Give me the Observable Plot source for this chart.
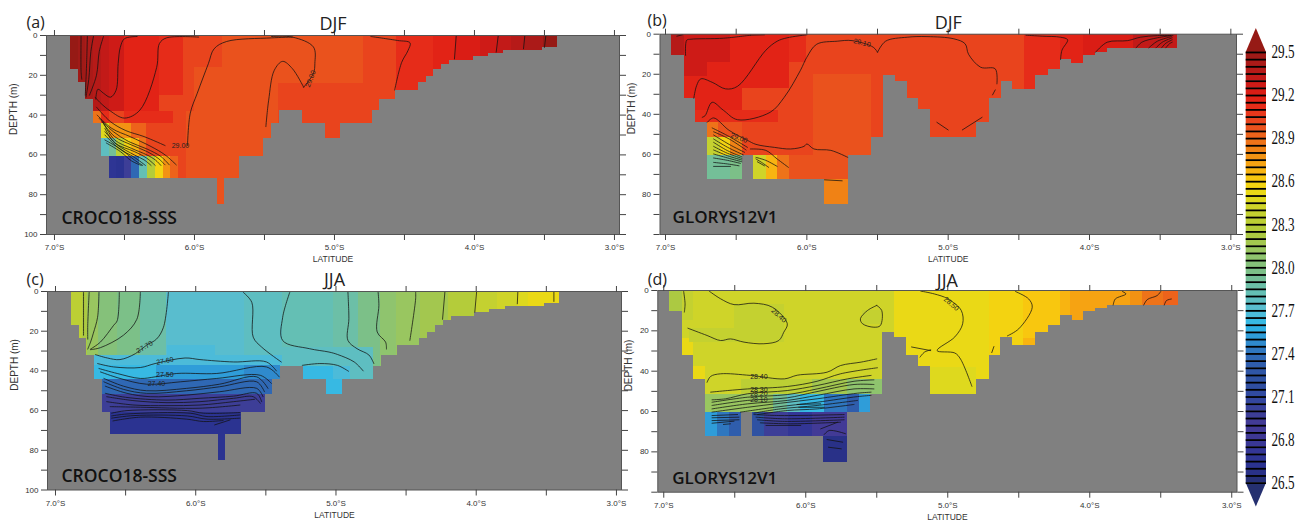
<!DOCTYPE html>
<html><head><meta charset="utf-8">
<script src="https://cdn.jsdelivr.net/npm/d3@7"></script>
<script src="https://cdn.jsdelivr.net/npm/@observablehq/plot@0.6"></script>
<style>html,body{margin:0;background:#fff;overflow:hidden}#c{position:relative;width:1308px;height:521px;overflow:hidden;background:#fff}#c svg{position:absolute}</style>
</head><body><div id="c"></div>
<script>
// Sea-bottom steps: column edges (latitude) and bottom depth (m) of each run
const crocoEdges=[-6.886,-6.831,-6.779,-6.719,-6.664,-6.61,-5.838,-5.786,-5.676,-5.505,-5.45,-5.395,-5.231,-5.064,-4.957,-4.731,-4.676,-4.564,-4.402,-4.345,-4.29,-4.236,-4.176,-4.01,-3.902,-3.79,-3.512,-3.405];
const crocoBottom=[17.3,23.6,32,44.1,61,72,85,72,61,51.9,44.1,37.9,44.1,51.9,44.1,37.9,32,27.4,23.6,20.5,17.3,14.8,12.6,10.6,8.9,7.6,6.2];
const glorysEdges=[-6.958,-6.868,-6.788,-6.705,-6.455,-6.375,-5.875,-5.708,-5.542,-5.46,-5.373,-5.29,-5.208,-5.125,-4.797,-4.709,-4.626,-4.546,-4.381,-4.293,-4.206,-4.125,-4.043,-3.957,-3.875,-3.378];
const glorysBottom=[10.6,32,44.1,72.3,60.7,72.3,85.2,60.7,51.7,20.6,23.5,32.2,37.5,51.7,44.1,32.2,23.5,27.5,20.6,17.6,12.6,14.8,10.6,9,7.3];

// Temperature patches: [lat from, lat to, depth from, depth to, °C], later ones lie over earlier ones
const patchesA=[
[-6.886,-3.405,0,100,29.03],[-5.8,-5.4,0,38,28.97],[-6,-5.4,16,100,28.97],[-6.06,-5.676,38,100,28.97],[-5.4,-4.79,0,24,28.97],
[-6.886,-6.831,0,100,29.6],[-6.831,-6.779,0,100,29.47],[-6.779,-6.719,0,100,29.42],[-6.719,-6.664,0,38,29.35],[-6.664,-6.61,0,38,29.3],
[-6.61,-6.5,0,38,29.27],[-6.5,-6.25,0,38,29.18],[-6.25,-6.08,0,30,29.12],[-6.5,-6.15,38,44.1,29.1],
[-6.719,-6.664,38,44.1,28.88],[-6.664,-6.61,38,44.1,29.1],
[-6.664,-6.61,44.1,52,28.45],[-6.61,-6.45,44.1,52,28.75],[-6.45,-6.34,44.1,52,28.93],
[-6.664,-6.61,52,61,27.75],[-6.61,-6.557,52,61,27.9],[-6.557,-6.502,52,61,28.3],[-6.502,-6.45,52,61,28.55],[-6.45,-6.395,52,61,28.67],[-6.395,-6.34,52,61,28.88],
[-6.61,-6.557,61,72,26.65],[-6.557,-6.502,61,72,26.6],[-6.502,-6.45,61,72,26.95],[-6.45,-6.395,61,72,27.35],[-6.395,-6.336,61,72,27.8],[-6.336,-6.279,61,72,28.25],[-6.279,-6.221,61,72,28.55],[-6.221,-6.169,61,72,28.75],[-6.169,-6.117,61,72,28.9],
[-4.56,-4.29,0,100,29.1],[-4.29,-4.136,0,100,29.18],[-4.136,-3.957,0,100,29.2],[-3.957,-3.838,0,100,29.27],[-3.838,-3.738,0,100,29.33],[-3.738,-3.64,0,100,29.38],[-3.64,-3.505,0,100,29.43],[-3.505,-3.405,0,100,29.6]];
const patchesB=[
[-6.958,-3.378,0,100,29.03],[-5.95,-5.542,20,100,28.98],
[-6.868,-6.455,0,38,29.18],[-6.455,-6.12,0,27,29.18],[-6.12,-6,0,14,29.12],[-6.868,-6.54,0,14,29.28],[-6.868,-6.7,14,21,29.28],[-6.958,-6.868,0,10.6,29.38],[-6.788,-6.2,38,44.1,29.1],
[-6.705,-6.623,44.1,51.7,28.88],[-6.623,-6.455,44.1,51.7,28.97],[-6.705,-6.61,51.7,60.7,28.38],[-6.61,-6.54,51.7,60.7,28.55],[-6.54,-6.455,51.7,60.7,28.82],[-6.705,-6.54,60.7,100,27.9],[-6.54,-6.455,60.7,100,27.97],
[-6.375,-6.288,60.7,100,28.42],[-6.288,-6.205,60.7,100,28.65],[-6.205,-6.123,60.7,100,28.88],[-6.123,-5.708,60.7,72.3,28.97],[-5.875,-5.708,72.3,100,28.82],
[-4.46,-4.206,0,100,29.12],[-4.206,-4.04,0,100,29.18],[-4.04,-3.686,0,100,29.23],[-3.686,-3.378,0,100,29.32]];
const patchesC=[
[-6.886,-6.81,0,100,28.3],[-6.81,-6.77,0,100,28.2],[-6.77,-6.69,0,100,28.1],[-6.69,-6.56,0,100,28.02],[-6.56,-6.395,0,100,27.95],[-6.395,-6.206,0,100,27.85],[-6.206,-5.65,0,100,27.72],[-5.65,-5.38,0,100,27.77],[-5.38,-5.015,0,100,27.82],[-5.015,-4.837,0,100,27.85],[-4.837,-4.68,0,100,27.95],[-4.68,-4.568,0,100,28.05],[-4.568,-4.397,0,100,28.1],[-4.397,-4.195,0,100,28.18],[-4.195,-4.005,0,100,28.28],[-4.005,-3.85,0,100,28.38],[-3.85,-3.707,0,100,28.42],[-3.707,-3.624,0,100,28.48],[-3.624,-3.446,0,100,28.53],[-3.446,-3.405,0,100,28.5],
[-5.38,-4.73,28,100,27.75],[-6.719,-5.38,32,37.2,27.67],[-6.2,-5.86,27,32,27.67],[-6.719,-6.277,37.2,44.1,27.6],[-6.277,-5.65,37.2,44.1,27.5],[-5.65,-5.395,37.2,44.1,27.45],
[-6.664,-5.45,44.1,52,27.35],[-6.664,-5.505,52,61,26.97],[-6.61,-5.676,61,72,26.62],[-5.838,-5.786,72,100,26.6],
[-5.231,-5.015,37.9,44.1,27.62],[-5.064,-4.957,44.1,100,27.6],[-5.015,-4.896,38,44.1,27.68]];
const patchesD=[
[-6.958,-3.378,0,100,28.42],[-6.958,-6.868,0,10.6,28.22],[-6.868,-6.788,0,15,28.38],[-6.868,-6.788,24,32,28.52],[-6.788,-6.705,37.7,44.1,28.52],
[-6.5,-6.15,7,26,28.37],[-6.82,-6.15,19,26,28.37],[-5.6,-5.47,10,17,28.38],
[-5.373,-4.709,0,100,28.5],[-5.15,-4.709,15,30,28.54],[-5.125,-4.797,38,100,28.45],
[-4.709,-4.464,0,100,28.58],[-4.464,-4.206,0,100,28.62],[-4.464,-4.381,24,100,28.68],[-4.206,-4.135,0,100,28.65],[-4.135,-3.713,0,100,28.7],[-3.713,-3.63,0,100,28.78],[-3.63,-3.478,0,100,28.85],[-3.478,-3.378,0,100,28.92],
[-6.455,-5.953,44.1,51.7,28.3],[-5.953,-5.708,44.1,51.7,28.15],[-5.708,-5.46,44.1,51.7,28.05],
[-6.705,-6.224,51.7,60.7,28.1],[-6.224,-6.13,51.7,60.7,27.9],[-6.13,-6.035,51.7,60.7,27.75],[-6.035,-5.87,51.7,60.7,27.6],[-5.87,-5.708,51.7,60.7,27.4],[-5.708,-5.624,51.7,60.7,27.3],[-5.624,-5.542,51.7,60.7,27.5],
[-6.705,-6.624,60.7,100,27.5],[-6.624,-6.54,60.7,100,27.42],[-6.54,-6.455,60.7,100,27.3],[-6.375,-6.29,60.7,100,27.2],[-6.29,-6.125,60.7,100,26.95],[-6.125,-5.953,60.7,100,26.7],[-5.953,-5.708,60.7,100,26.85],[-5.875,-5.708,72.3,100,26.55]];

// Isotherms: lists of [lat, depth]
const contoursA=[
[[-6.81,0],[-6.81,18],[-6.805,22]],[[-6.765,0],[-6.77,13],[-6.78,30]],[[-6.72,0],[-6.74,8],[-6.755,22],[-6.775,31]],
[[-6.65,0.5],[-6.68,8],[-6.7,20],[-6.75,30]],
[[-6.41,0.5],[-6.5,1.6],[-6.53,6],[-6.545,14],[-6.56,27.5],[-6.6,31],[-6.65,29],[-6.69,27],[-6.705,32]],
[[-5.97,0.8],[-6.2,1.2],[-6.25,4],[-6.27,16],[-6.39,37.5],[-6.5,41.5],[-6.6,38],[-6.67,34],[-6.71,31]],
[[-5.3,0.8],[-5.45,1.2],[-5.77,3],[-5.86,6.7],[-5.9,14],[-5.98,29],[-6.03,39],[-6.05,55.3]],
[[-5.45,0.5],[-5.3,0.8],[-5.15,5.8],[-5.14,14],[-5.15,19],[-5.22,26]],
[[-5.22,26],[-5.3,16.7],[-5.37,13],[-5.43,17.5],[-5.47,32.5],[-5.49,45.8]],
[[-4.74,0.5],[-4.55,2.5],[-4.46,3.7],[-4.475,7.6],[-4.52,13.5],[-4.57,27.4]],
[[-4.13,0],[-4.143,11.8]],[[-3.83,0],[-3.845,8.4]],[[-3.64,0],[-3.65,6.7]],[[-3.49,0],[-3.5,6]],
[[-6.7,36],[-6.6,43.3],[-6.49,47.8],[-6.36,50.8],[-6.21,55.3]],
[[-6.695,40],[-6.59,46.7],[-6.46,50.8],[-6.31,55.8],[-6.21,60],[-6.13,65]],
[[-6.68,41.7],[-6.58,48.3],[-6.47,53.3],[-6.34,57],[-6.24,60.8],[-6.18,65]],
[[-6.66,43.3],[-6.57,50.8],[-6.45,55],[-6.34,58.3],[-6.26,61.7],[-6.21,65]],
[[-6.65,44],[-6.57,52.5],[-6.45,56.7],[-6.34,60],[-6.28,62.5],[-6.24,65.3]],
[[-6.64,46.7],[-6.57,54],[-6.43,58.3],[-6.34,61.7],[-6.28,65.3]],
[[-6.64,48.3],[-6.55,55],[-6.43,60],[-6.36,62.5],[-6.31,65.3]],
[[-6.64,50],[-6.54,56.7],[-6.43,61.2],[-6.35,65.3]],
[[-6.64,52.5],[-6.53,57],[-6.43,62.5],[-6.37,65.3]],
[[-6.63,54],[-6.53,58.3],[-6.45,63],[-6.38,65.3]]];
const contoursB=[
[[-6.92,1],[-6.88,0.3]],[[-6.4,0.5],[-6.3,0.3]],
[[-6.858,10.6],[-6.85,3],[-6.82,2.5],[-6.59,2],[-6.4,0.5]],
[[-6,0.3],[-6.14,1.8],[-6.21,3.5],[-6.29,8],[-6.49,26],[-6.575,27.3],[-6.67,24],[-6.75,22.3],[-6.78,25.7],[-6.8,32]],
[[-5.5,9],[-5.53,6.5],[-5.68,3.2],[-5.785,3.5],[-5.93,5],[-6,11.5],[-6.045,18],[-6.16,31.5],[-6.26,39],[-6.49,42.7],[-6.59,38],[-6.67,34],[-6.72,40.7],[-6.74,41.5]],
[[-5.5,9],[-5.443,3.5],[-5.29,1.5],[-5.15,1.2],[-4.96,2.3],[-4.88,4.8],[-4.856,10],[-4.77,16.5],[-4.667,17.3],[-4.655,24.8]],
[[-4.667,27.8],[-4.686,30.3]],
[[-6.705,44],[-6.66,41.8],[-6.55,48],[-6.42,53],[-6.36,55],[-6.23,56.5],[-6.115,57.3],[-6.02,56],[-6,54.8],[-5.95,57.3],[-5.83,58],[-5.71,61.5]],
[[-6.4,57.3],[-6.29,58],[-6.21,62.3],[-6.13,66.5]],[[-5.875,72.7],[-5.75,73.2]],
[[-6.67,46.8],[-6.56,50.7],[-6.42,56.5]],[[-6.66,48.7],[-6.55,52.3],[-6.43,57.8]],[[-6.66,50.3],[-6.55,55],[-6.44,59]],[[-6.66,52.3],[-6.56,56.5],[-6.45,60.2]],[[-6.66,54],[-6.56,58.2],[-6.46,61.2]],[[-6.66,56],[-6.56,59.5],[-6.46,62]],[[-6.66,57.8],[-6.56,60.7],[-6.46,62.8]],[[-6.66,59.8],[-6.56,61.8],[-6.46,63.7]],[[-6.66,61.8],[-6.56,63],[-6.47,64.5]],[[-6.66,64],[-6.56,64.8],[-6.48,65.7]],[[-6.66,66],[-6.54,66]],
[[-6.36,61.5],[-6.29,63],[-6.21,66]],[[-6.36,62.3],[-6.32,64],[-6.27,66.5]],[[-6.35,63.7],[-6.3,65.7]],
[[-5.08,44],[-5,47.8]],[[-4.9,47.8],[-4.76,41.5]],
[[-4.45,0.5],[-4.335,1],[-4.205,1.5],[-4.155,2.8],[-4.195,8],[-4.205,12.7]],
[[-3.957,9],[-3.875,4],[-3.73,3.2],[-3.64,1.5],[-3.52,0.7],[-3.41,0.7]],
[[-3.67,6.8],[-3.63,4],[-3.52,1.8],[-3.425,0.7]],[[-3.58,6.8],[-3.52,3.5],[-3.42,1.2]],[[-3.53,6.8],[-3.485,4],[-3.415,1.8]],[[-3.49,6.8],[-3.46,4.5],[-3.415,2.8]],[[-3.46,6.8],[-3.435,4.8],[-3.415,4]]];
const contoursC=[
[[-6.8,0.5],[-6.8,13],[-6.8,22]],[[-6.76,0.5],[-6.77,17],[-6.77,24]],[[-6.69,0.5],[-6.7,13],[-6.73,21],[-6.75,25.5],[-6.77,29]],
[[-6.545,0.5],[-6.56,14.7],[-6.585,17],[-6.68,25.5],[-6.75,29]],[[-6.395,0.3],[-6.42,14],[-6.515,22],[-6.68,28.3],[-6.75,29.3]],
[[-6.195,0.5],[-6.23,18],[-6.28,24],[-6.35,27],[-6.43,31.3],[-6.54,34.3],[-6.63,33.5],[-6.715,31.8]],
[[-5.66,0.5],[-5.6,5.5],[-5.59,23],[-5.53,28],[-5.39,35.5]],
[[-5.33,0.5],[-5.38,13],[-5.38,24.7],[-5.19,28.8],[-5.05,30.5],[-4.99,31.7],[-4.87,35.5],[-4.806,40]],
[[-5.24,37.2],[-5.115,36.3],[-4.99,37.2],[-4.91,40.2]],
[[-4.915,0],[-4.908,13.7],[-4.915,24.6],[-4.85,28.8],[-4.765,32],[-4.73,36.3]],[[-4.7,0],[-4.694,7],[-4.706,20.4],[-4.646,25.5],[-4.64,29]],[[-4.432,0],[-4.432,3.7],[-4.473,24.6]],[[-4.223,0],[-4.24,14]],[[-3.997,0],[-4.01,10.4]],[[-3.703,0],[-3.707,6.2]],[[-3.446,0],[-3.446,5]],
[[-6.7,36.3],[-6.585,38],[-6.395,38.3],[-6.29,36.3],[-6.076,33.5],[-5.97,34.3],[-5.73,35.5],[-5.495,35.5],[-5.425,40]],
[[-6.69,38.8],[-6.56,41.3],[-6.395,43.8],[-6.29,43],[-6.135,41.3],[-5.85,41.3],[-5.495,38],[-5.405,43]],
[[-6.68,40.5],[-6.54,43.8],[-6.35,46.7],[-6.11,45.5],[-5.85,43.8],[-5.54,42.2],[-5.46,46.3]],
[[-6.655,43.8],[-6.515,47.7],[-6.35,50],[-6.065,48.8],[-5.83,46.7],[-5.565,43],[-5.485,48.8]],
[[-6.655,45.5],[-6.515,49.3],[-6.35,51.3],[-6.065,50],[-5.83,48],[-5.565,45.5],[-5.51,50.5]],
[[-6.645,47.7],[-6.49,51.3],[-6.325,53],[-6.065,52.2],[-5.83,50.5],[-5.565,48.8],[-5.52,53]],
[[-6.645,51.3],[-6.5,53.3],[-6.205,54.7],[-5.97,53.8],[-5.73,52.7],[-5.565,51.3],[-5.53,55.5]],
[[-6.635,53],[-6.44,55],[-6.205,56],[-5.97,55.5],[-5.73,53.8],[-5.59,53],[-5.54,56.3]],
[[-6.635,55.5],[-6.44,57.2],[-6.205,57.5],[-5.97,57.2],[-5.73,55.5],[-5.58,54.3]],
[[-6.61,58],[-6.395,58.3],[-5.97,58.8],[-5.685,57.2]],
[[-6.6,61.3],[-6.49,60],[-6.06,60],[-5.945,61.3],[-5.685,61]],
[[-6.6,62.7],[-6.49,61.7],[-6.04,61.3],[-5.92,63],[-5.685,62.2]],
[[-6.6,63.8],[-6.44,62.5],[-6.06,62.7],[-5.92,64.3],[-5.685,63.8]],
[[-6.59,65.2],[-6.395,63.3],[-6.065,64.3],[-5.945,65.5],[-5.805,65]],
[[-5.865,67.2],[-5.755,64.7]]];
const contoursD=[
[[-6.86,0.5],[-6.85,6.6],[-6.855,10.7]],
[[-6.68,0.3],[-6.6,4.1],[-6.505,7],[-6.365,6.3],[-6.235,8.3],[-6.13,16.5],[-6.155,20.7],[-6.19,24.8],[-6.295,26.4],[-6.435,25.6],[-6.53,24],[-6.6,24.8],[-6.695,22.3],[-6.83,18.7]],
[[-5.5,7.4],[-5.465,9.9],[-5.475,17.4],[-5.52,18.2],[-5.6,16.5],[-5.615,14],[-5.565,9.9],[-5.5,7.4]],
[[-5.19,0.3],[-5.095,1.7],[-5,4.1],[-4.905,9.9],[-4.895,16.5],[-4.95,23],[-5.075,29.8],[-4.95,31],[-4.91,34],[-4.83,47.5]],
[[-5.255,28],[-5.12,29.8]],[[-5.195,33],[-5.165,30.6],[-5.12,29.4]],
[[-4.523,0.5],[-4.43,4.2],[-4.405,8.3],[-4.5,19],[-4.58,22.5]],[[-4.675,27.8],[-4.69,30.8]],
[[-3.77,0.5],[-3.745,1.7],[-3.82,4.2],[-3.835,7.2]],[[-3.5,0.5],[-3.525,2.5],[-3.595,4.5],[-3.62,7.2]],[[-3.425,4.2],[-3.46,5],[-3.475,7.2]],
[[-6.695,45.5],[-6.67,42.6],[-6.6,41.3],[-6.39,42.1],[-6.15,43.8],[-6.06,42],[-5.85,40.5],[-5.755,37.2],[-5.61,35.5],[-5.5,33.9]],
[[-6.67,50.4],[-6.55,49.6],[-6.41,48.8],[-6.13,47.6],[-5.92,45],[-5.755,41.3],[-5.495,38.3]],
[[-6.66,54.2],[-6.565,53.7],[-6.41,51.2],[-6.13,49.6],[-5.92,47.1],[-5.705,43.8],[-5.54,42.1]],
[[-6.66,55.4],[-6.41,52.9],[-6.13,51.6],[-5.92,48.8],[-5.66,45],[-5.52,44.3]],
[[-6.66,57],[-6.41,54.5],[-6.13,53.2],[-5.94,50.4],[-5.66,46.6],[-5.52,46.6]],
[[-6.66,58.7],[-6.41,56.2],[-6.13,54.5],[-5.92,52],[-5.66,48.8],[-5.52,48.8]],
[[-6.66,60.3],[-6.41,57.9],[-6.18,55.9],[-5.92,53.7],[-5.635,50.9],[-5.54,50.4]],
[[-6.46,60.3],[-6.22,57.9],[-5.92,55.4],[-5.635,52.6],[-5.54,52]],
[[-6.365,60.8],[-6.18,58.7],[-5.92,57],[-5.635,54.5]],
[[-6.34,61.5],[-6.13,59.5],[-5.92,58.7],[-5.66,56.5]],
[[-6.06,56.5],[-5.895,56.2]],[[-6.05,57.9],[-5.87,57.9]],
[[-6.66,62],[-6.48,61.5]],[[-6.66,63.1],[-6.47,62.8]],[[-6.66,64.5],[-6.47,64.1]],[[-6.66,65.8],[-6.505,64.8]],[[-6.58,66.4],[-6.53,66.1]],
[[-6.365,61.5],[-6.175,62],[-5.73,61.5]],[[-6.35,62.8],[-6.15,63.6],[-5.73,62.8]],[[-6.34,64.1],[-6.15,64.9],[-5.73,64.1]],[[-6.32,65.6],[-6.105,66.1],[-5.755,65.3]],[[-6.28,66.9],[-6.035,66.9]],
[[-5.895,68.6],[-5.775,65.3]],[[-5.87,71.4],[-5.835,69.4],[-5.72,71]],[[-5.85,73.9],[-5.74,75.2]],[[-5.84,77.7],[-5.75,78.5]]];

// Contour labels: [lat, depth, text, angle]
const labelsA=[[-6.1,55.3,"29.00",0],[-5.17,21.7,"29.00",-68]];
const labelsB=[[-5.61,4.3,"29.10",14],[-6.48,51.8,"29.00",20]];
const labelsC=[[-6.365,28,"27.70",-30],[-6.22,35,"27.60",-10],[-6.22,41.8,"27.50",0],[-6.28,46.3,"27.40",0]];
const labelsD=[[-6.19,12.4,"28.40",42],[-4.975,6.6,"28.50",40],[-6.33,43,"28.40",0],[-6.33,49,"28.30",0],[-6.33,51.2,"28.20",0],[-6.33,54.2,"28.10",0]];

// Colour bar: anchor temperatures and colours
const barTemps=[26.5,26.6,26.7,26.8,26.9,27,27.1,27.2,27.3,27.4,27.5,27.6,27.7,27.8,27.9,28,28.1,28.2,28.3,28.4,28.5,28.6,28.7,28.8,28.9,29,29.1,29.2,29.3,29.4,29.5];
const barColors=["#253070","#2a3290","#303696","#3c3894","#443a96","#3a3f98","#3048a0","#2f50a0","#2f58a8","#2f6db8","#2f94d4","#2db8e8","#57bcd4","#60bfbb","#70bfa0","#80c080","#94c568","#a8c846","#b8ce36","#c8d22e","#e6dc18","#f8d00e","#f8ab12","#f08a14","#ee6b1a","#e94a1e","#e8301a","#e01e14","#c81a18","#b01a18","#9b1a16"];
const barLabels=[26.5,26.8,27.1,27.4,27.7,28,28.3,28.6,28.9,29.2,29.5];
const lowCol=barColors[0], highCol="#961a15";

const thresholds=d3.range(0,61).map(i=>+(26.5+i*0.05).toFixed(2));
const bandColor=d3.scaleLinear().domain(barTemps).range(barColors);
const bandRange=[lowCol,...thresholds.slice(0,-1).map(t=>bandColor(t+0.025)),highCol];
const colorScale={type:"threshold",domain:thresholds,range:bandRange};

const latHalf=[-7,-6.5,-6,-5.5,-5,-4.5,-4,-3.5,-3];
const latFmt=d=>Number.isInteger(d)?Math.abs(d).toFixed(1)+"°S":"";
const noLabel=()=>"";
const depthTicks=d3.range(0,101,10);
const sans="Liberation Sans", body="Open Sans", ink="#333";

function panel(o){
  const runs=o.edges.slice(0,-1).map((e,i)=>({x1:e,x2:o.edges[i+1],y1:o.bottom[i],y2:100}));
  const lines=o.contours.flatMap((pts,k)=>pts.map(p=>({lat:p[0],d:p[1],k})));
  const ox=o.frame.left-o.ml, oy=o.frame.top-o.mt;
  const w=Math.round(o.frame.right+14-ox), h=o.h;
  const fig=Plot.plot({
    width:w,height:h,marginLeft:o.ml,marginRight:w-(o.frame.right-ox),marginTop:o.mt,marginBottom:h-(o.frame.bottom-oy),
    x:{domain:o.xd},y:{domain:[0,100],reverse:true},color:colorScale,
    style:{background:"none",overflow:"visible",fontFamily:sans},
    marks:[
      Plot.frame({fill:"#808080",stroke:"none"}),
      Plot.rect(o.patches,{x1:d=>d[0],x2:d=>d[1],y1:d=>d[2],y2:d=>d[3],fill:d=>d[4],shapeRendering:"crispEdges"}),
      Plot.rect(runs,{x1:"x1",x2:"x2",y1:"y1",y2:"y2",fill:"#808080",shapeRendering:"crispEdges"}),
      Plot.line(lines,{x:"lat",y:"d",z:"k",stroke:"#111",strokeWidth:0.75,curve:"catmull-rom"}),
      Plot.text(o.labels,{x:d=>d[0],y:d=>d[1],text:d=>d[2],rotate:d=>d[3],fontSize:7,fill:"#222"}),
      Plot.frame({stroke:"#555",strokeWidth:1}),
      Plot.axisX({anchor:"bottom",ticks:latHalf,tickFormat:latFmt,tickSize:6,tickPadding:4,fontSize:8,fill:ink,stroke:"#444",label:null}),
      Plot.axisX({anchor:"top",ticks:latHalf,tickFormat:noLabel,tickSize:6,stroke:"#444",label:null}),
      Plot.axisY({anchor:"left",ticks:depthTicks,tickFormat:o.depthFmt,tickSize:6,tickPadding:3,fontSize:8,fill:ink,stroke:"#444",label:null}),
      Plot.axisY({anchor:"right",ticks:depthTicks,tickFormat:noLabel,tickSize:6,stroke:"#444",label:null}),
      Plot.text(["DEPTH (m)"],{frameAnchor:"left",dx:o.depthDx,rotate:-90,fontSize:10,fill:ink}),
      Plot.text(["LATITUDE"],{frameAnchor:"bottom",dy:25,lineAnchor:"middle",fontSize:8.5,fill:ink}),
      Plot.text([o.title],{frameAnchor:"top",dy:o.titleDy,lineAnchor:"bottom",fontSize:18,fontFamily:body,fill:"#222"}),
      Plot.text([o.tag],{frameAnchor:"top-left",dx:o.tagDx,dy:o.tagDy,lineAnchor:"bottom",textAnchor:"start",fontSize:16,fontFamily:body,fill:"#222"}),
      Plot.text([o.name],{x:o.nameAt[0],y:o.nameAt[1],textAnchor:"start",fontSize:o.nameSize,fontWeight:600,fontFamily:body,fill:"#111"})
    ]});
  fig.querySelectorAll("text").forEach(t=>{if(!t.textContent.trim())t.remove();});
  fig.style.left=ox+"px"; fig.style.top=oy+"px";
  document.getElementById("c").appendChild(fig);
}
const fmt100=d=>d%20===0?String(d):"", fmt80=d=>d%20===0&&d<100?String(d):"";
panel({frame:{left:46,right:619,top:35,bottom:234},ml:40,mt:35,h:266,xd:[-7.057,-2.964],edges:crocoEdges,bottom:crocoBottom,patches:patchesA,contours:contoursA,labels:labelsA,title:"DJF",titleDy:-6,tag:"(a)",tagDx:-20,tagDy:-8,name:"CROCO18-SSS",nameAt:[-6.95,92],nameSize:17.5,depthFmt:fmt100,depthDx:-33});
panel({frame:{left:659.5,right:1236,top:33.7,bottom:234},ml:39.5,mt:33.7,h:266,xd:[-7.039,-2.96],edges:glorysEdges,bottom:glorysBottom,patches:patchesB,contours:contoursB,labels:labelsB,title:"DJF",titleDy:-5,tag:"(b)",tagDx:-12.5,tagDy:-8,name:"GLORYS12V1",nameAt:[-6.95,91.7],nameSize:17,depthFmt:fmt80,depthDx:-28.5});
panel({frame:{left:47,right:621,top:291,bottom:489.5},ml:40,mt:31,h:260,xd:[-7.057,-2.964],edges:crocoEdges,bottom:crocoBottom,patches:patchesC,contours:contoursC,labels:labelsC,title:"JJA",titleDy:-6,tag:"(c)",tagDx:-21,tagDy:-7,name:"CROCO18-SSS",nameAt:[-6.957,93],nameSize:17.5,depthFmt:fmt100,depthDx:-33});
panel({frame:{left:657.3,right:1236.5,top:290,bottom:491.7},ml:39.3,mt:30,h:260,xd:[-7.042,-2.963],edges:glorysEdges,bottom:glorysBottom,patches:patchesD,contours:contoursD,labels:labelsD,title:"JJA",titleDy:-4,tag:"(d)",tagDx:-10,tagDy:-6,name:"GLORYS12V1",nameAt:[-6.94,93],nameSize:17,depthFmt:fmt80,depthDx:-29});

// Colour bar
const bands=thresholds.slice(0,-1).map(t=>({t,t2:+(t+0.05).toFixed(2)}));
const bar=Plot.plot({
  width:68,height:508,marginLeft:10.7,marginRight:37,marginTop:20,marginBottom:9.4,
  x:{domain:[0,1],axis:null},y:{domain:[26.333,29.667]},color:colorScale,
  style:{background:"none",overflow:"visible",fontFamily:"Liberation Sans Narrow"},
  marks:[
    Plot.rect(bands,{x1:0,x2:1,y1:"t",y2:"t2",fill:d=>d.t+0.025}),
    Plot.areaX([{t:29.5,a:0,b:1,v:29.6},{t:29.667,a:0.5,b:0.5,v:29.6}],{y:"t",x1:"a",x2:"b",fill:"v"}),
    Plot.areaX([{t:26.5,a:0,b:1,v:26.4},{t:26.333,a:0.5,b:0.5,v:26.4}],{y:"t",x1:"a",x2:"b",fill:"v"}),
    Plot.ruleY(thresholds,{stroke:"#000",strokeWidth:1.8}),
    Plot.axisY({anchor:"right",ticks:barLabels,tickFormat:d=>d.toFixed(1),tickSize:0,tickPadding:5,fontSize:18,fill:"#111",label:null})
  ]});
bar.style.left="1235px"; bar.style.top="8px";
bar.querySelectorAll('[aria-label="y-axis tick label"] text').forEach(t=>{t.setAttribute("textLength","23");t.setAttribute("lengthAdjust","spacingAndGlyphs");});
document.getElementById("c").appendChild(bar);
</script></body></html>
